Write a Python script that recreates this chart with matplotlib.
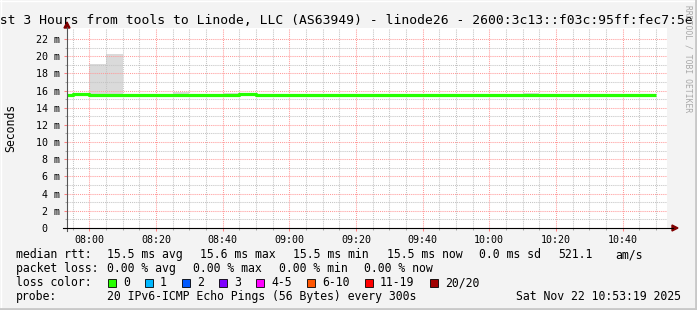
import numpy as np
import matplotlib.pyplot as plt
from matplotlib.patches import Rectangle, Polygon
from matplotlib.lines import Line2D

# 5 minute bins (start time) for the last 3 hours
bin_times = ['07:50', '07:55', '08:00', '08:05', '08:10', '08:15', '08:20', '08:25', '08:30',
             '08:35', '08:40', '08:45', '08:50', '08:55', '09:00', '09:05', '09:10', '09:15',
             '09:20', '09:25', '09:30', '09:35', '09:40', '09:45', '09:50', '09:55', '10:00',
             '10:05', '10:10', '10:15', '10:20', '10:25', '10:30', '10:35', '10:40', '10:45']
# median rtt in ms
median_rtt = [15.45, 15.55, 15.50, 15.50, 15.50, 15.50, 15.50, 15.50, 15.50,
              15.50, 15.50, 15.58, 15.50, 15.50, 15.50, 15.50, 15.50, 15.50,
              15.50, 15.50, 15.50, 15.50, 15.50, 15.50, 15.50, 15.50, 15.50,
              15.50, 15.50, 15.50, 15.50, 15.50, 15.50, 15.50, 15.50, 15.50]
# smoke (ping spread) top and bottom in ms
smoke_hi = [15.55, 15.65, 19.10, 20.30, 15.60, 15.60, 15.60, 15.80, 15.65,
            15.55, 15.72, 15.62, 15.55, 15.55, 15.55, 15.55, 15.55, 15.55,
            15.55, 15.55, 15.55, 15.55, 15.55, 15.55, 15.55, 15.55, 15.55,
            15.65, 15.75, 15.55, 15.55, 15.55, 15.55, 15.55, 15.55, 15.55]
smoke_lo = [15.40, 15.45, 15.45, 15.45, 15.45, 15.45, 15.45, 15.45, 15.45,
            15.45, 15.45, 15.40, 15.45, 15.45, 15.45, 15.45, 15.45, 15.45,
            15.45, 15.45, 15.45, 15.45, 15.45, 15.45, 15.45, 15.45, 15.45,
            15.45, 15.40, 15.45, 15.45, 15.45, 15.45, 15.45, 15.45, 15.45]

x_labels = ['08:00', '08:20', '08:40', '09:00', '09:20', '09:40', '10:00', '10:20', '10:40']
y_values = [0, 2, 4, 6, 8, 10, 12, 14, 16, 18, 20, 22]

loss_labels = ['0', '1', '2', '3', '4-5', '6-10', '11-19', '20/20']
loss_colors = ['#26ff00', '#00b8ff', '#0059ff', '#7e00ff', '#ff00ff', '#ff5500', '#ff0000', '#a00000']

title = 'Last 3 Hours from tools to Linode, LLC (AS63949) - linode26 - 2600:3c13::f03c:95ff:fec7:5e'


def to_min(t):
    h, m = t.split(':')
    return (int(h) - 7) * 60 + int(m)


W, H = 697, 310
mono = 'DejaVu Sans Mono'


def fx(x):
    return x / W


def fy(y):
    return 1 - y / H


fig = plt.figure(figsize=(W / 100, H / 100), dpi=100, facecolor='#f3f3f3')
ax = fig.add_axes([fx(67), fy(228), 600 / W, 200 / H])
ax.set_facecolor('white')

starts = np.array([to_min(t) for t in bin_times])
edges = np.append(starts, starts[-1] + 5)
med = np.append(median_rtt, median_rtt[-1])
hi = np.append(smoke_hi, smoke_hi[-1])
lo = np.append(smoke_lo, smoke_lo[-1])

ax.fill_between(edges, lo, hi, step='post', color='#dadada', lw=0, zorder=1)
ax.step(edges, med, where='post', color='#26ff00', lw=2.3, zorder=3, solid_capstyle='butt')

ax.set_xlim(53.32, 233.32)
ax.set_ylim(0, 23.28)

ax.set_xticks([to_min(t) for t in x_labels])
ax.set_xticklabels(x_labels)
ax.set_xticks(np.arange(55, 233, 5), minor=True)
ax.set_yticks(y_values)
ax.set_yticklabels(['0  ' if v == 0 else '%d m' % v for v in y_values])
ax.set_yticks(np.arange(1, 23, 2), minor=True)

ax.set_axisbelow(False)
ax.grid(which='major', color='#ff9a9a', ls=(0, (1, 1)), lw=0.75, zorder=2)
ax.grid(which='minor', color='#c4c4c4', ls=(0, (1, 1)), lw=0.75, zorder=2)

for s in ax.spines.values():
    s.set_visible(False)

ax.tick_params(which='major', length=2.5, width=0.75, color='#ff8080', labelsize=7.2, pad=2.5)
ax.tick_params(which='minor', length=1.5, width=0.75, color='#aaaaaa')
for lab in ax.get_xticklabels() + ax.get_yticklabels():
    lab.set_family(mono)

# y axis title
fig.text(fx(11), fy(128), 'Seconds', family=mono, fontsize=8.3, rotation=90, ha='center', va='center')

# axis lines with arrows
fig.add_artist(Line2D([fx(67), fx(67)], [fy(231), fy(27)], color='#555555', lw=0.8))
fig.add_artist(Line2D([fx(63), fx(673)], [fy(228), fy(228)], color='#000000', lw=0.8))
fig.add_artist(Polygon([[fx(64), fy(28)], [fx(70), fy(28)], [fx(67), fy(22)]], closed=True,
                       color='#800000', transform=fig.transFigure))
fig.add_artist(Polygon([[fx(672), fy(225)], [fx(672), fy(231)], [fx(678), fy(228)]], closed=True,
                       color='#800000', transform=fig.transFigure))

# title (wider than the image, cut at both sides)
fig.text(fx(-15.7), fy(24), title, family=mono, fontsize=9.4, ha='left', va='baseline')

# watermark
fig.text(fx(688), fy(5), 'RRDTOOL / TOBI OETIKER', family=mono, fontsize=5.8, color='#a8a8a8',
         rotation=270, ha='center', va='top')

# legend rows
fs = 8.3
rows = [
    (258, [(16, 'median rtt:'), (107, '15.5 ms avg'), (200, '15.6 ms max'), (293, '15.5 ms min'),
           (387, '15.5 ms now'), (479, '0.0 ms sd'), (558, '521.1'), (615, 'am/s')]),
    (272, [(16, 'packet loss:'), (107, '0.00 % avg'), (193, '0.00 % max'), (279, '0.00 % min'),
           (364, '0.00 % now')]),
    (286, [(16, 'loss color:')]),
    (300, [(16, 'probe:'), (107, '20 IPv6-ICMP Echo Pings (56 Bytes) every 300s')]),
]
for yb, items in rows:
    for xx, txt in items:
        fig.text(fx(xx), fy(yb), txt, family=mono, fontsize=fs, ha='left', va='baseline')
fig.text(fx(681), fy(300), 'Sat Nov 22 10:53:19 2025', family=mono, fontsize=fs, ha='right', va='baseline')

box_x = [108, 145, 182, 219, 256, 307, 365, 430]
for bx, lab, col in zip(box_x, loss_labels, loss_colors):
    fig.add_artist(Rectangle((fx(bx), fy(287)), 8 / W, 8 / H, facecolor=col, edgecolor='black',
                             lw=0.6, transform=fig.transFigure))
    fig.text(fx(bx + 15), fy(286), lab, family=mono, fontsize=fs, ha='left', va='baseline')

# image border
fig.add_artist(Line2D([0, 1], [fy(0.5), fy(0.5)], color='white', lw=1))
fig.add_artist(Line2D([fx(0.5), fx(0.5)], [0, 1], color='white', lw=1))
fig.add_artist(Line2D([fx(695.5), fx(695.5)], [0, 1], color='#c8c8c8', lw=2))
fig.add_artist(Line2D([0, 1], [fy(308.5), fy(308.5)], color='#c8c8c8', lw=2))

fig.savefig('out.png', dpi=100, facecolor=fig.get_facecolor())
